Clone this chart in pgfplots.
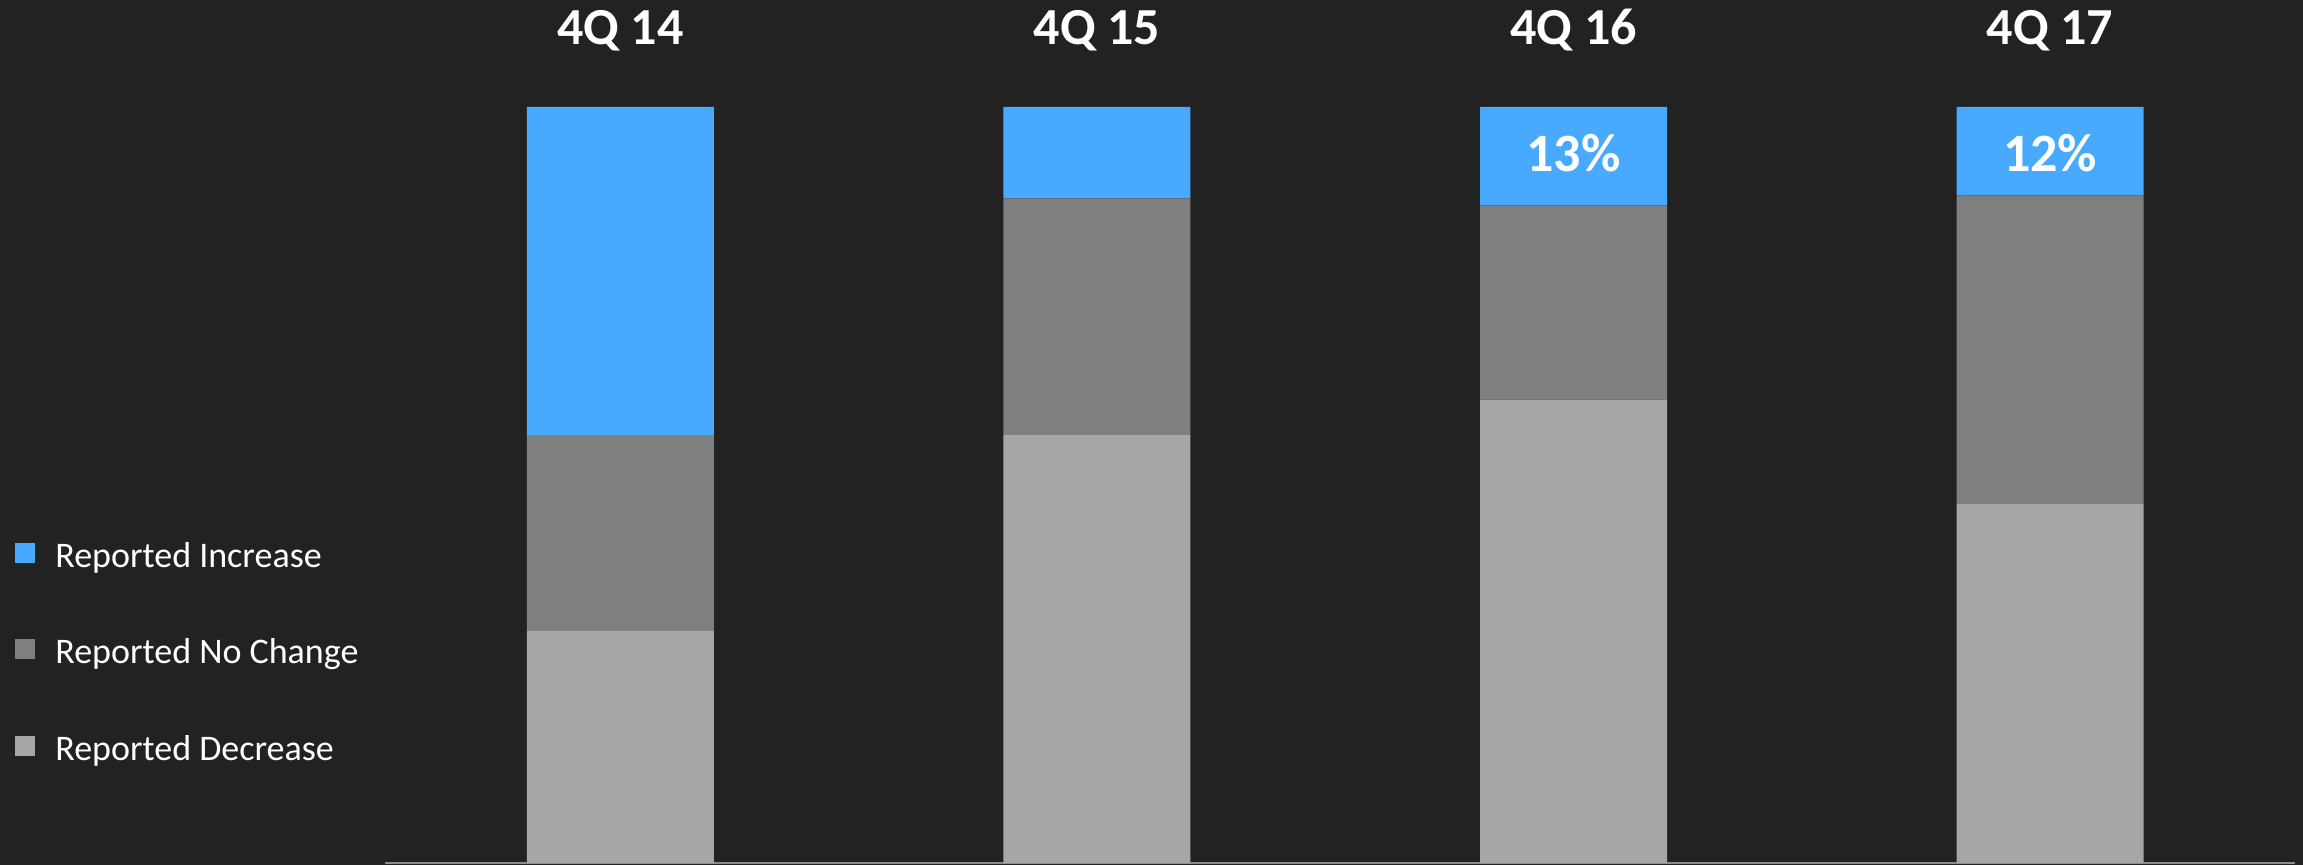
\documentclass[border=0pt]{standalone}
\usepackage{fontspec}
\setmainfont{Carlito}
\usepackage{pgfplots}
\pgfplotsset{compat=1.18}
\definecolor{bgc}{HTML}{222222}
\definecolor{incc}{HTML}{48AAFF}
\definecolor{ncc}{HTML}{7F7F7F}
\definecolor{decc}{HTML}{A6A6A6}
\definecolor{linec}{HTML}{8C8C8C}
\begin{document}
\begin{tikzpicture}
\fill[bgc] (-192.5pt,-1pt) rectangle (959pt,431.5pt);
\begin{axis}[
  at={(0pt,0pt)}, anchor=south west,
  scale only axis, width=955pt, height=378pt,
  ybar stacked, bar width=93.5pt,
  xmin=-0.494, xmax=3.514, ymin=0, ymax=100,
  axis y line=none, axis x line=bottom,
  x axis line style={-, draw=linec, line width=1pt},
  xtick=\empty, ytick=\empty,
  clip=false,
  reverse legend,
  legend cell align=left,
  legend image code/.code={\fill[#1] (0pt,-3.25pt) rectangle (10pt,6.75pt);},
  legend style={at={(-0.19372,0.278)}, anchor=west, draw=none, fill=none,
    text=white, font=\fontsize{18}{21.6}\selectfont, inner sep=0pt,
    row sep=34.4pt, nodes={inner sep=0pt},
    /tikz/every odd column/.append style={column sep=10pt}},
]
\addplot[fill=decc, draw=none] coordinates {(0,30.7) (1,56.6) (2,61.3) (3,47.5)};
\addlegendentry{Reported Decrease}
\addplot[fill=ncc, draw=none] coordinates {(0,25.9) (1,31.3) (2,25.7) (3,40.8)};
\addlegendentry{Reported No Change}
\addplot[fill=incc, draw=none] coordinates {(0,43.4) (1,12.1) (2,13.0) (3,11.7)};
\addlegendentry{Reported Increase}
\coordinate (t0) at (axis cs:0,108.2);
\coordinate (t1) at (axis cs:1,108.2);
\coordinate (t2) at (axis cs:2,108.2);
\coordinate (t3) at (axis cs:3,108.2);
\coordinate (p2) at (axis cs:2,91.4);
\coordinate (p3) at (axis cs:3,91.4);
\end{axis}
\tikzset{ttl/.style={anchor=base, text=white, font=\bfseries\fontsize{26}{30}\selectfont}}
\node[ttl] at (t0) {4Q 14};
\node[ttl] at (t1) {4Q 15};
\node[ttl] at (t2) {4Q 16};
\node[ttl] at (t3) {4Q 17};
\node[anchor=base, text=white, font=\bfseries\fontsize{27}{31}\selectfont] at (p2) {13\%};
\node[anchor=base, text=white, font=\bfseries\fontsize{27}{31}\selectfont] at (p3) {12\%};
\pgfresetboundingbox
\path (-192.5pt,-1pt) rectangle (959pt,431.5pt);
\end{tikzpicture}
\end{document}
